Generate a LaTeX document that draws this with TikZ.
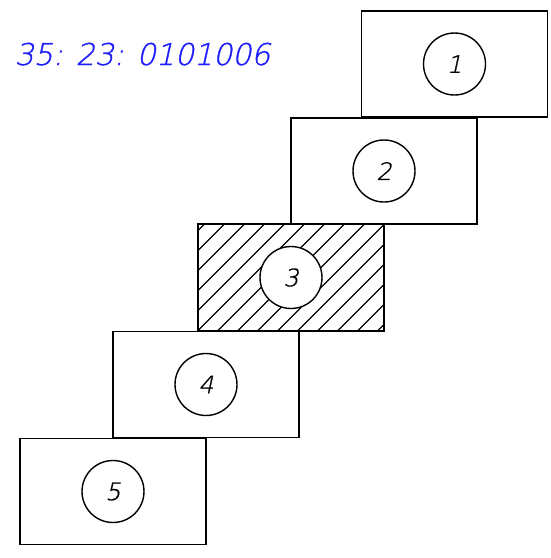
\documentclass[tikz,border=0pt]{standalone}
\usepackage{fontspec}
\usepackage{tikz}
\usetikzlibrary{calc}
\newfontfamily\thinfont[FakeSlant=0.22,FakeBold=1]{DejaVu Sans ExtraLight}
\definecolor{codeblue}{RGB}{30,30,250}

\begin{document}
\begin{tikzpicture}[x=1pt,y=-1pt,line width=1.4pt,
                    box/.style={draw,rectangle,minimum width=186pt,minimum height=106pt,inner sep=0pt},
                    num/.style={draw,circle,minimum size=62pt,inner sep=0pt,fill=white,
                                font=\fontsize{24}{24}\selectfont\thinfont},
                    hatch/.style={line width=1.1pt}]
  \useasboundingbox (0,0) rectangle (551,558);

  \node[box] (B1) at (454.5,64)  {};
  \node[box] (B2) at (384,171)   {};
  \node[box] (B3) at (291,277.5) {};
  \node[box] (B4) at (206,384.5) {};
  \node[box] (B5) at (113,491.5) {};

  % hatching of the third block
  \begin{scope}
    \clip (B3.south west) rectangle (B3.north east);
    \foreach \k in {-6,...,9}
      \draw[hatch] ($(B3.south west)+(20*\k,0)$) -- ++(120,-120);
  \end{scope}
  \draw (B3.south west) rectangle (B3.north east);

  \node[num] (N1) at (B1) {1};
  \node[num] (N2) at (B2) {2};
  \node[num] (N3) at (B3) {3};
  \node[num] (N4) at (B4) {4};
  \node[num] (N5) at (B5) {5};

  \node[anchor=base west,inner sep=0pt,text=codeblue,
        font=\fontsize{30}{30}\selectfont\thinfont] (code) at (14,65)
        {35: 23: 0101006};
\end{tikzpicture}
\end{document}
